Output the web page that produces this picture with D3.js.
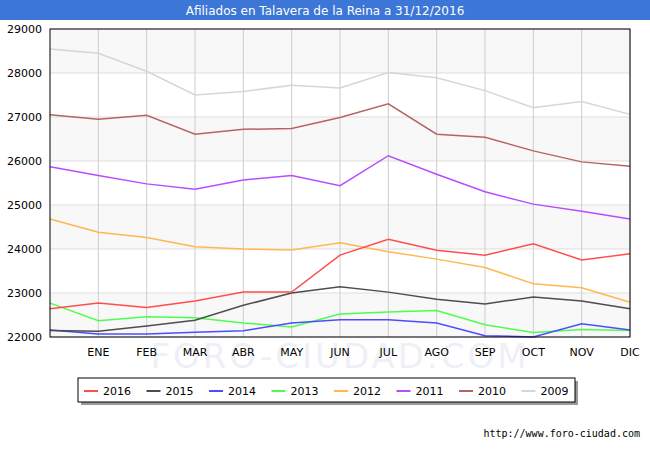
<!DOCTYPE html>
<html><head><meta charset="utf-8">
<script src="https://cdn.jsdelivr.net/npm/d3@7"></script>
<style>body{margin:0;background:#fff}</style></head>
<body><svg id="c" width="650" height="450"></svg>
<script>
const months = ["", "ENE","FEB","MAR","ABR","MAY","JUN","JUL","AGO","SEP","OCT","NOV","DIC"];
const yTicks = [22000,23000,24000,25000,26000,27000,28000,29000];
const s2016 = [22640,22770,22670,22820,23020,23020,23860,24220,23970,23860,24120,23750,23890];
const s2015 = [22150,22130,22250,22380,22720,23000,23140,23020,22860,22750,22910,22820,22640];
const s2014 = [22160,22070,22070,22110,22140,22320,22390,22390,22320,22030,22000,22300,22160];
const s2013 = [22770,22370,22460,22440,22320,22230,22520,22570,22600,22280,22100,22170,22150];
const s2012 = [24680,24380,24260,24050,24000,23980,24140,23940,23770,23580,23210,23120,22790];
const s2011 = [25870,25670,25480,25360,25570,25670,25440,26120,25700,25300,25020,24860,24680];
const s2010 = [27050,26950,27040,26610,26720,26740,26990,27300,26610,26540,26230,25980,25880];
const s2009 = [28547,28450,28040,27500,27580,27720,27660,28010,27890,27600,27210,27350,27060];
const series = [
 {name:"2016",color:"#ff4d4d",v:s2016},{name:"2015",color:"#4d4d4d",v:s2015},
 {name:"2014",color:"#4d4dff",v:s2014},{name:"2013",color:"#4dff4d",v:s2013},
 {name:"2012",color:"#ffb84d",v:s2012},{name:"2011",color:"#b84dff",v:s2011},
 {name:"2010",color:"#b86363",v:s2010},{name:"2009",color:"#d6d6d6",v:s2009}];
const svg = d3.select("#c");
const L=50,R=630,T=29,B=337;
const x = d3.scaleLinear().domain([0,12]).range([L,R]);
const y = d3.scaleLinear().domain([22000,29000]).range([B,T]);
svg.append("rect").attr("x",0).attr("y",0).attr("width",650).attr("height",20).attr("fill","#3c76d6");
svg.append("text").attr("x",325).attr("y",15).attr("text-anchor","middle").attr("fill","#fff")
 .attr("font-family","DejaVu Sans").attr("font-size",12).text("Afiliados en Talavera de la Reina a 31/12/2016");
for(let i=0;i<yTicks.length-1;i+=2){
 svg.append("rect").attr("x",L).attr("width",R-L).attr("y",y(yTicks[i+1])).attr("height",y(yTicks[i])-y(yTicks[i+1])).attr("fill","#f8f8f8");
}
svg.append("text").attr("x",340).attr("y",368).attr("text-anchor","middle").attr("font-family","DejaVu Sans").attr("font-size",34).attr("fill","#eef0f6").attr("letter-spacing",3).text("FORO-CIUDAD.COM");
yTicks.forEach(t=>{
 svg.append("line").attr("x1",L).attr("x2",R).attr("y1",y(t)).attr("y2",y(t)).attr("stroke","#ddd");
 svg.append("text").attr("x",42).attr("y",y(t)+4).attr("text-anchor","end").attr("font-family","DejaVu Sans").attr("font-size",11).text(t);
});
months.forEach((m,i)=>{
 if(i>0) svg.append("line").attr("x1",x(i)).attr("x2",x(i)).attr("y1",T).attr("y2",B).attr("stroke","#ccc");
 svg.append("text").attr("x",x(i)).attr("y",356).attr("text-anchor","middle").attr("font-family","DejaVu Sans").attr("font-size",11).text(m);
});
const line = d3.line().x((d,i)=>x(i)).y(d=>y(d));
series.slice().reverse().forEach(s=>{
 svg.append("path").attr("d",line(s.v)).attr("fill","none").attr("stroke",s.color).attr("stroke-width",1.5);
});
svg.append("rect").attr("x",L).attr("y",T).attr("width",R-L).attr("height",B-T).attr("fill","none").attr("stroke","#000");
svg.append("rect").attr("x",81).attr("y",381).attr("width",497).attr("height",24).attr("fill","#999");
svg.append("rect").attr("x",78).attr("y",378).attr("width",497).attr("height",24).attr("fill","#fff").attr("stroke","#000");
series.forEach((s,i)=>{
 const lx=84+i*62.5;
 svg.append("line").attr("x1",lx).attr("x2",lx+14).attr("y1",391).attr("y2",391).attr("stroke",s.color).attr("stroke-width",2);
 svg.append("text").attr("x",lx+19).attr("y",395).attr("font-family","DejaVu Sans").attr("font-size",11).text(s.name);
});
svg.append("text").attr("x",640).attr("y",437).attr("text-anchor","end").attr("font-family","DejaVu Sans Mono").attr("font-size",10).text("http://www.foro-ciudad.com");
</script></body></html>
